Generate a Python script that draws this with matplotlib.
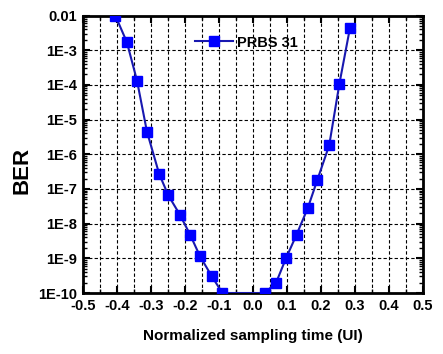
import matplotlib
matplotlib.use("Agg")
import matplotlib.pyplot as plt
from matplotlib.ticker import MultipleLocator, LogLocator, NullFormatter

plt.rcParams['font.family'] = ['Liberation Sans', 'DejaVu Sans']

x_vals = [-0.405, -0.371, -0.341, -0.312, -0.276, -0.249, -0.215, -0.185, -0.156, -0.121, -0.09,
          0.035, 0.068, 0.097, 0.128, 0.161, 0.189, 0.224, 0.254, 0.285]
ber_vals = [1.0e-2, 1.7e-3, 1.3e-4, 4.5e-6, 2.7e-7, 6.5e-8, 1.8e-8, 4.8e-9, 1.15e-9, 3.0e-10, 1.0e-10,
            1.0e-10, 2.0e-10, 1.0e-9, 4.8e-9, 2.8e-8, 1.8e-7, 1.8e-6, 1.07e-4, 4.3e-3]
series_label = "PRBS 31"
y_ticks = [1e-10, 1e-9, 1e-8, 1e-7, 1e-6, 1e-5, 1e-4, 1e-3, 1e-2]
y_ticklabels = ["1E-10", "1E-9", "1E-8", "1E-7", "1E-6", "1E-5", "1E-4", "1E-3", "0.01"]
x_ticks = [-0.5, -0.4, -0.3, -0.2, -0.1, 0.0, 0.1, 0.2, 0.3, 0.4, 0.5]

fig = plt.figure(figsize=(4.43, 3.54), dpi=100)
ax = fig.add_axes([0.1874, 0.1723, 0.7675, 0.7839])

ax.plot(x_vals, ber_vals, color='#1818b0', lw=1.5, marker='s', ms=7.5,
        mfc='#0000ff', mec='#0000ff', label=series_label, zorder=3)

ax.set_yscale('log')
ax.set_xlim(-0.5, 0.5)
ax.set_ylim(1e-10, 1e-2)

ax.set_yticks(y_ticks)
ax.set_yticklabels(y_ticklabels)
ax.yaxis.set_minor_locator(LogLocator(base=10, subs=range(2, 10), numticks=20))
ax.yaxis.set_minor_formatter(NullFormatter())
ax.set_xticks(x_ticks)
ax.set_xticklabels([f"{v:.1f}" for v in x_ticks])
ax.xaxis.set_minor_locator(MultipleLocator(0.05))

for lab in ax.get_xticklabels() + ax.get_yticklabels():
    lab.set_fontweight('bold')
    lab.set_fontsize(10.5)

ax.tick_params(which='both', direction='in', top=True, right=True)
ax.tick_params(which='major', length=5, width=1.5, pad=4)
ax.tick_params(which='minor', length=3, width=1)

ax.grid(True, which='major', axis='y', color='black', ls=(0, (3, 2)), lw=0.8)
ax.grid(True, which='both', axis='x', color='black', ls=(0, (3, 2)), lw=0.8)

for s in ax.spines.values():
    s.set_linewidth(2)

ax.set_ylabel("BER", fontsize=16, fontweight='bold')
ax.yaxis.set_label_coords(-0.15, 0.44)
ax.set_xlabel("Normalized sampling time (UI)", fontsize=11, fontweight='bold', labelpad=12)

leg = ax.legend(loc='upper left', bbox_to_anchor=(0.29, 0.975), frameon=False,
                prop={'weight': 'bold', 'size': 10.5}, handlelength=2.6, handletextpad=0.3)

fig.savefig("out.png", dpi=100)
